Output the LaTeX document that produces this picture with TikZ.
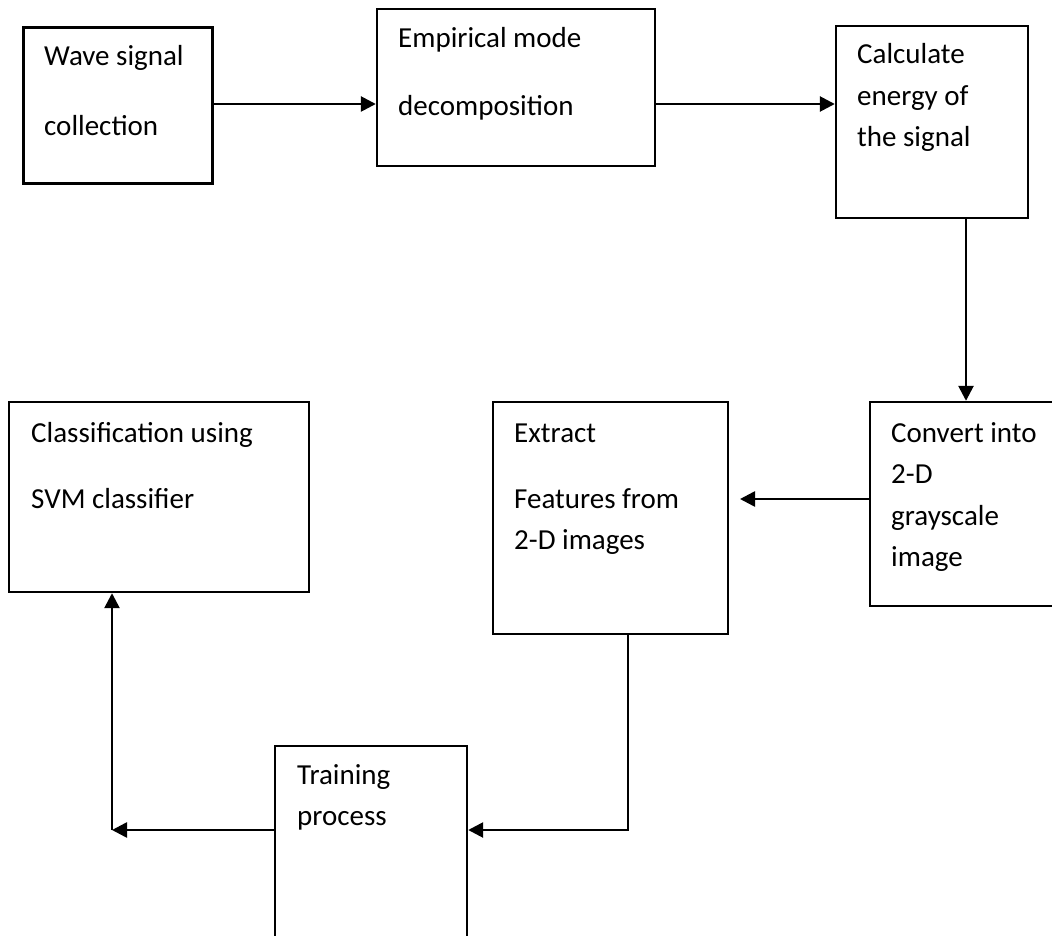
\documentclass[tikz,border=0pt]{standalone}
\usepackage{fontspec}
\setmainfont{Carlito}
\usetikzlibrary{arrows.meta}

\tikzset{
  box/.style={draw, line width=2.4pt, inner sep=0pt},
  lbl/.style={anchor=base west, align=left, inner sep=0pt, font=\fontsize{29}{41.5}\selectfont},
  flow/.style={line width=2.6pt, -{Triangle[length=15pt,width=15pt]}},
}

\begin{document}
\begin{tikzpicture}[x=1pt,y=-1pt]
  \useasboundingbox (0,0) rectangle (1052,936);
  % boxes
  \node[box, line width=3pt, minimum width=189pt, minimum height=156pt] (wave) at (117.5,106) {};
  \node[box, minimum width=278pt, minimum height=157pt] (emd) at (516,87.5) {};
  \node[box, minimum width=192pt, minimum height=192pt] (energy) at (932,122) {};
  \node[box, minimum width=215pt, minimum height=204pt] (convert) at (977.5,504) {};
  \node[box, minimum width=235pt, minimum height=232pt] (extract) at (610.5,518) {};
  \node[box, minimum width=300pt, minimum height=190pt] (classify) at (159,497) {};
  \node[box, minimum width=192pt, minimum height=250pt] (train) at (371,871) {};
  % texts (placed at the baseline of the last line)
  \node[lbl] (wave-t) at (44,136) {Wave signal\\[28.5pt]collection};
  \node[lbl] (emd-t) at (398,116) {Empirical mode\\[26.5pt]decomposition};
  \node[lbl] (energy-t) at (857,147) {Calculate\\energy of\\the signal};
  \node[lbl] (convert-t) at (891,566.5) {Convert into\\2-D\\grayscale\\image};
  \node[lbl] (extract-t) at (514,549.5) {Extract\\[24.5pt]Features from\\2-D images};
  \node[lbl] (classify-t) at (31,508) {Classification using\\[24.5pt]SVM classifier};
  \node[lbl] (train-t) at (297,825.5) {Training\\process};
  % routing points
  \coordinate (row1) at (0,104);
  \coordinate (row2) at (0,499);
  \coordinate (row3) at (0,830);
  \coordinate (colE) at (966,0);
  \coordinate (colX) at (628,0);
  \coordinate (colC) at (112,0);
  \coordinate (tip) at (740,499);
  % connectors
  \draw[flow] (wave.east |- row1) -- (emd.west |- row1);
  \draw[flow] (emd.east |- row1) -- (energy.west |- row1);
  \draw[flow] (energy.south -| colE) -- (convert.north -| colE);
  \draw[flow] (convert.west |- row2) -- (tip);
  \draw[flow] (extract.south -| colX) |- (train.east |- row3);
  \draw[flow] (train.west |- row3) -- (colC |- row3);
  \draw[flow] (colC |- row3) -- (classify.south -| colC);
\end{tikzpicture}
\end{document}
